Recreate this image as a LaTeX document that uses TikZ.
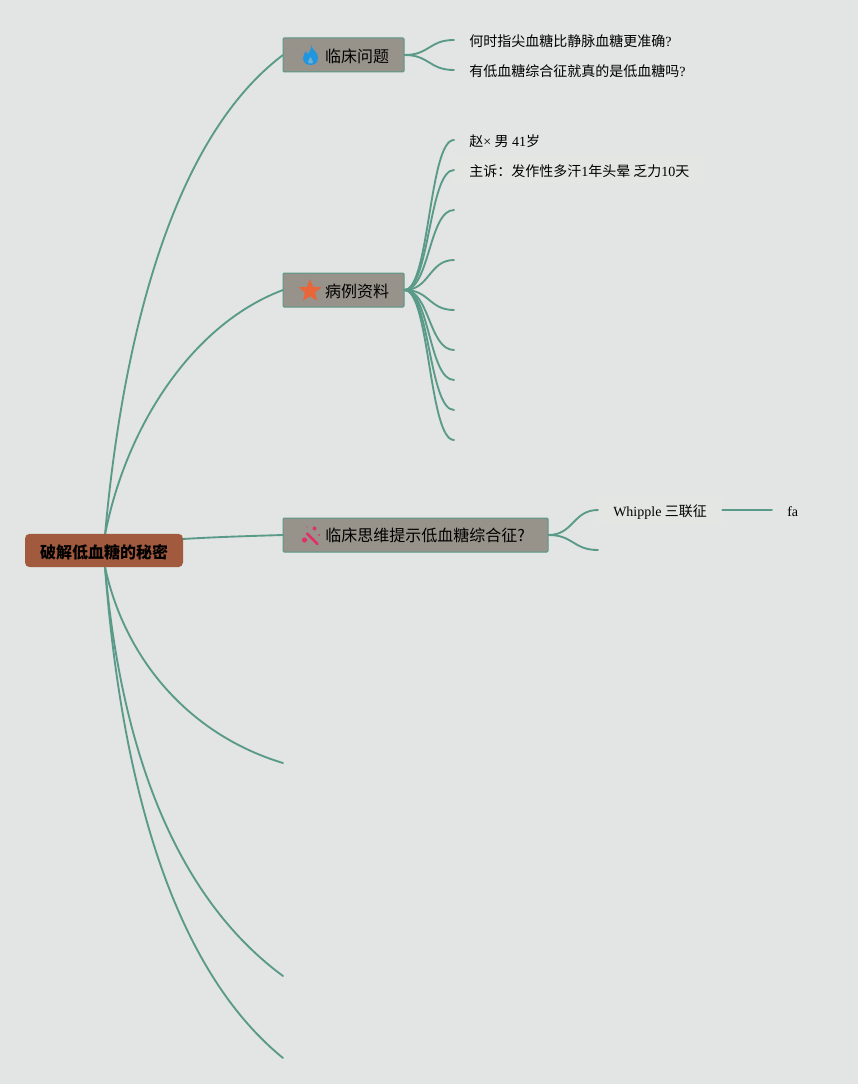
\documentclass[tikz,border=0pt]{standalone}
\usepackage{fontspec}
\usetikzlibrary{shapes.geometric}
\setmainfont{Liberation Serif}
\newfontfamily\cjk{Noto Sans CJK SC}
\definecolor{bgc}{HTML}{E2E5E3}
\definecolor{linec}{HTML}{5A9A88}
\definecolor{rootc}{HTML}{A25A3E}
\definecolor{topicc}{HTML}{97928A}
\definecolor{leafc}{HTML}{E4E6E4}
\definecolor{flamec}{HTML}{2196E0}
\definecolor{flamei}{HTML}{6FAFD0}
\definecolor{starc}{HTML}{E8663A}
\definecolor{wandc}{HTML}{E0306A}
\tikzset{
  px/.style={x=0.75pt,y=-0.75pt},
  conn/.style={draw=linec,line width=1.4pt,line cap=round},
  rootbox/.style={draw=none,fill=rootc,rounded corners=3.5pt,minimum width=118.5pt,minimum height=25pt,inner sep=0pt,text height=12.5pt,text depth=0.44pt,font=\cjk\bfseries\fontsize{12}{14}\selectfont,text=black},
  topicbox/.style={draw=linec,line width=0.75pt,fill=topicc,rounded corners=0.8pt,minimum height=25.5pt,inner ysep=0pt,inner xsep=11.25pt,align=right,font=\cjk\fontsize{12}{14}\selectfont,text=black},
  lowered/.style={text height=11pt,text depth=0.44pt},
  leaf/.style={inner xsep=11.25pt,inner ysep=5pt,anchor=west,text height=9.7pt,text depth=0.3pt,font=\fontsize{10.5}{13}\selectfont,text=black},
  patch/.style={fill=leafc},
  wand/.style={line width=1.5pt,wandc,line cap=round},
}
\begin{document}
\begin{tikzpicture}[px]
\fill[bgc] (0,0) rectangle (858,1084);
\useasboundingbox (0,0) rectangle (858,1084);
% free ends
\coordinate (e1) at (283,763);
\coordinate (e2) at (283,976);
\coordinate (e3) at (283,1058);
\coordinate (c1) at (454,210);
\coordinate (c2) at (454,260);
\coordinate (c3) at (454,310);
\coordinate (c4) at (454,350);
\coordinate (c5) at (454,380);
\coordinate (c6) at (454,410);
\coordinate (c7) at (454,440);
\coordinate (w2) at (598,550);
\coordinate (rt) at (105,535);
\coordinate (rb) at (105,567);
\coordinate (rs) at (183,539);
% leaves
\node[leaf] (l1) at (454,40) {{\cjk 何时指尖血糖比静脉血糖更准确}?};
\node[leaf] (l2) at (454,70) {{\cjk 有低血糖综合征就真的是低血糖吗}?};
\node[leaf] (p1) at (454,140) {{\cjk 赵}× {\cjk 男} 41{\cjk 岁}};
\node[leaf,patch] (p2) at (454,170) {{\cjk 主诉：发作性多汗}1{\cjk 年头晕 乏力}10{\cjk 天}};
\node[leaf,patch] (wh) at (598,510) {Whipple {\cjk 三联征}};
\node[leaf] (fa) at (772,510) {fa};
% connectors
\path[conn] (rt) .. controls (122,345) and (170,140) .. (283,55) coordinate (t1);
\path[conn] (rt) .. controls (125,430) and (190,325) .. (283,290) coordinate (t2);
\path[conn] (rs) .. controls (215,537) and (250,536) .. (283,535) coordinate (t3);
\path[conn] (rb) .. controls (125,660) and (190,735) .. (e1);
\path[conn] (rb) .. controls (122,760) and (180,900) .. (e2);
\path[conn] (rb) .. controls (122,790) and (175,970) .. (e3);
% topics
\node[topicbox,lowered,text width=68.25pt] (b1) at (343.5,55) {临床问题};
\node[topicbox,lowered,text width=68.25pt] (b2) at (343.5,290) {病例资料};
\node[topicbox,inner xsep=17.25pt,text width=164.25pt] (b3) at (415.5,535) {临床思维提示低血糖综合征?};
\node[rootbox] (root) at (104,550.5) {破解低血糖的秘密};
\foreach \t in {l1.west,l2.west} \path[conn] (b1.east) .. controls +(25,0) and +(-25,0) .. (\t);
\foreach \t in {p1.west,p2.west,c1,c2,c3,c4,c5,c6,c7} \path[conn] (b2.east) .. controls +(25,0) and +(-25,0) .. (\t);
\path[conn] (b3.east) .. controls +(25,0) and +(-25,0) .. (wh.west);
\path[conn] (b3.east) .. controls +(25,0) and +(-25,0) .. (w2);
\path[conn] (wh.east) -- (fa.west);
% icons
\fill[flamec] (311,45) .. controls (312,50) and (318,52) .. (318,58) .. controls (318,63) and (314,65) .. (310.5,65) .. controls (306,65) and (303,62) .. (303,58) .. controls (303,55) and (305,53) .. (306,51) .. controls (307,53) and (307,54) .. (308,54) .. controls (310,52) and (311,49) .. (311,45) -- cycle;
\fill[flamei] (310.5,57) .. controls (311,59) and (313,60) .. (313,62) .. controls (313,64) and (308,64) .. (308,62) .. controls (308,60) and (310,59) .. (310.5,57) -- cycle;
\node[star,star points=5,star point ratio=2.3,fill=starc,minimum size=18pt,inner sep=0pt] (st) at (310,291) {};
\draw[wand,line width=2pt] (307,533.5) -- (317.5,544);
\fill[wandc] (304.5,540) circle (2.6);
\fill[wandc] (314.5,528.5) circle (2);
\fill[wandc] (319,535) circle (1);
\fill[wandc] (307,527) circle (0.7);
\end{tikzpicture}
\end{document}
